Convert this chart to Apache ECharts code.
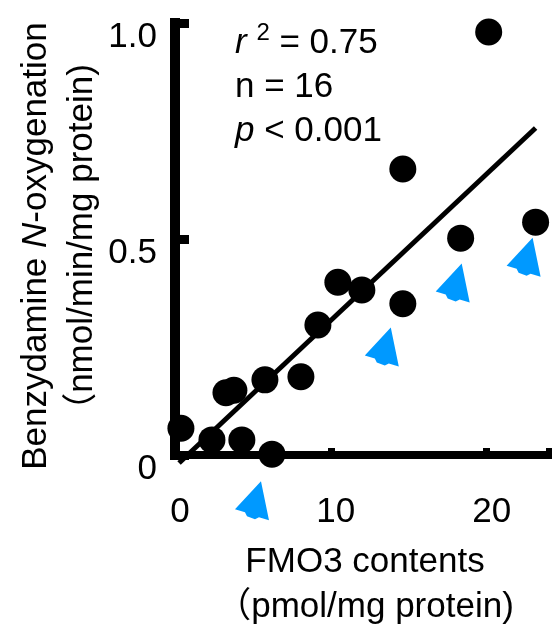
<!DOCTYPE html>
<html>
<head>
<meta charset="utf-8">
<script src="https://cdn.jsdelivr.net/npm/echarts@6/dist/echarts.min.js"></script>
<style>
  html, body { margin: 0; padding: 0; background: #fff; }
  #chart { width: 552px; height: 627px; }
</style>
</head>
<body>
<div id="chart"></div>
<script>
// FMO3 content vs. benzydamine N-oxygenation activity (16 liver microsome samples)
const fmo3Content = [0.38, 2.37, 3.27, 3.78, 4.29, 6.22, 5.77, 8.08, 9.17, 10.45, 11.99, 14.62, 18.33, 23.14, 20.13, 14.62];
const nOxygenation = [0.062, 0.035, 0.144, 0.150, 0.035, 0.002, 0.174, 0.181, 0.301, 0.400, 0.382, 0.350, 0.502, 0.539, 0.979, 0.662];

// Regression line end points
const fitX = [0.26, 23.14];
const fitY = [-0.0185, 0.757];

// Blue arrow markers flagging selected samples
const arrowX = [13.27, 17.82, 22.37, 4.94];
const arrowY = [0.250, 0.398, 0.458, -0.106];

// Tick labels
const xTickLabels = ['0', '10', '20'];
const yTickLabels = ['0', '0.5', '1.0'];

const FONT = '"Liberation Sans", Arial, "Noto Sans CJK JP", sans-serif';
const BLUE = '#0099ff';
const ARROW_PATH = 'path://M26 0 L34 39 L24 36 L20 38 L12 35 L10 31 L0 28 Z';

const chart = echarts.init(document.getElementById('chart'), null, { renderer: 'canvas' });

chart.setOption({
  animation: false,
  backgroundColor: '#fff',
  grid: { left: 175, top: 23, width: 374.4, height: 432, containLabel: false },
  xAxis: {
    type: 'value', min: 0, max: 24, interval: 10,
    axisLine: { lineStyle: { color: '#000', width: 8, cap: 'square' } },
    axisTick: { inside: true, length: 7, lineStyle: { color: '#000', width: 7 } },
    axisLabel: {
      margin: 40, color: '#000', fontSize: 35, fontFamily: FONT,
      padding: [0, 0, 0, 10],
      formatter: (v, i) => xTickLabels[i] ?? ''
    },
    splitLine: { show: false }
  },
  yAxis: {
    type: 'value', min: 0, max: 1, interval: 0.5,
    axisLine: { lineStyle: { color: '#000', width: 10, cap: 'square' } },
    axisTick: { inside: true, length: 14, lineStyle: { color: '#000', width: 9 } },
    axisLabel: {
      margin: 18, color: '#000', fontSize: 35, fontFamily: FONT,
      verticalAlign: 'top', lineHeight: 36, padding: [-4, 0, 0, 0],
      formatter: (v, i) => yTickLabels[i] ?? ''
    },
    splitLine: { show: false }
  },
  series: [
    {
      type: 'scatter',
      data: fmo3Content.map((x, i) => [x, nOxygenation[i]]),
      symbol: 'circle', symbolSize: 27, clip: false,
      itemStyle: { color: '#000', opacity: 1 }, z: 3
    },
    {
      type: 'line',
      data: fitX.map((x, i) => [x, fitY[i]]),
      showSymbol: false, clip: false,
      lineStyle: { color: '#000', width: 5 }, z: 4
    },
    {
      type: 'scatter',
      data: arrowX.map((x, i) => [x, arrowY[i]]),
      symbol: ARROW_PATH, symbolSize: [34, 39], clip: false,
      itemStyle: { color: BLUE, opacity: 1 }, z: 5
    }
  ],
  graphic: [
    {
      type: 'text', x: 235, y: 21,
      style: {
        text: '{i|r} {sup|2} = 0.75\nn = 16\n{i|p} < 0.001',
        fontSize: 35, fontFamily: FONT, fill: '#000',
        align: 'left', verticalAlign: 'top', lineHeight: 44,
        rich: {
          i: { fontStyle: 'italic', fontSize: 35, fontFamily: FONT, lineHeight: 44 },
          sup: { fontSize: 24, fontFamily: FONT, verticalAlign: 'top', lineHeight: 16 }
        }
      }
    },
    {
      type: 'text', x: 365, y: 585,
      style: {
        text: 'FMO3 contents\n（pmol/mg protein)',
        fontSize: 35, fontFamily: FONT, fill: '#000',
        align: 'center', verticalAlign: 'middle', lineHeight: 45
      }
    },
    {
      type: 'text', x: 59, y: 246, rotation: Math.PI / 2,
      style: {
        text: 'Benzydamine {i|N}-oxygenation\n（nmol/min/mg protein)',
        fontSize: 35, fontFamily: FONT, fill: '#000',
        align: 'center', verticalAlign: 'middle', lineHeight: 46,
        rich: {
          i: { fontStyle: 'italic', fontSize: 35, fontFamily: FONT, lineHeight: 46 }
        }
      }
    }
  ]
});
</script>
</body>
</html>
